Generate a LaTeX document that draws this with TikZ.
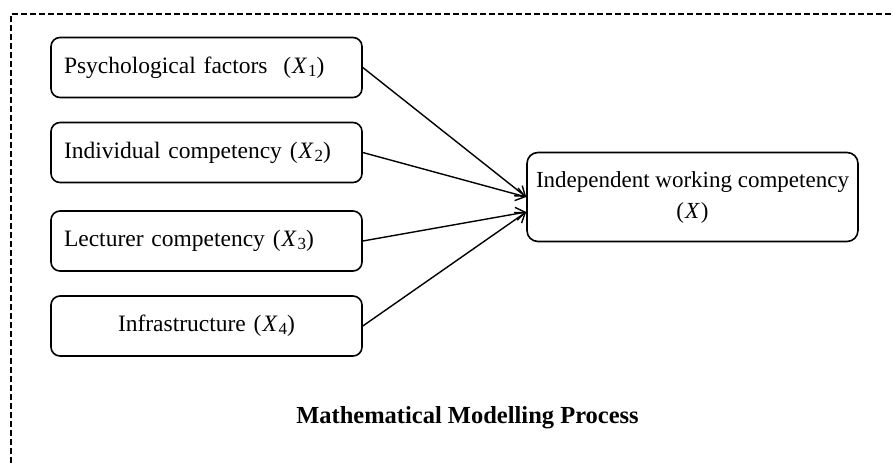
\documentclass[tikz,border=0pt]{standalone}
\usepackage{fontspec}
\setmainfont{Liberation Serif}
\usetikzlibrary{arrows.meta}
\newcommand{\vsub}[1]{(\kern1pt\textit{X}\kern1pt\raisebox{-0.28ex}{\fontsize{17}{17}\selectfont #1})}
\tikzset{
  factorbox/.style={draw, line width=1.6pt, rounded corners=9pt, minimum width=311pt,
    minimum height=60pt, text width=285pt, inner xsep=13pt, align=left,
    font=\fontsize{23.5}{28}\selectfont},
  targetbox/.style={draw, line width=1.6pt, rounded corners=11pt, minimum width=331pt,
    minimum height=89pt, align=center, font=\fontsize{23}{31}\selectfont},
  link/.style={line width=1.4pt, -{Straight Barb[length=9pt,width=13pt,line width=1.4pt]}},
  frame/.style={line width=1.5pt, dash pattern=on 6pt off 3pt}
}
\begin{document}
\begin{tikzpicture}[x=1pt,y=1pt]
\useasboundingbox (0,0) rectangle (893,-463);
\draw[frame] (11,-463) -- (11,-14) -- (893,-14);
\node[factorbox] (b1) at (206.5,-67.5) {Psychological factors\ \ \vsub{1}};
\node[factorbox] (b2) at (206.5,-152.5) {Individual competency \vsub{2}};
\node[factorbox] (b3) at (206.5,-241) {Lecturer competency \vsub{3}};
\node[factorbox, align=center] (b4) at (206.5,-326) {Infrastructure \vsub{4}};
\node[targetbox] (x) at (692.5,-197) {Independent working competency\\(\kern1pt\textit{X}\kern1pt)};
\coordinate (t1) at ([yshift=0pt]x.west);
\coordinate (t2) at ([yshift=-15pt]x.west);
\draw[link] (b1.east) -- (t1);
\draw[link] (b2.east) -- (t1);
\draw[link] (b3.east) -- (t2);
\draw[link] (b4.east) -- (t2);
\node[font=\fontsize{24.5}{28}\selectfont\bfseries, anchor=base] (title) at (467.5,-423) {Mathematical Modelling Process};
\end{tikzpicture}
\end{document}
